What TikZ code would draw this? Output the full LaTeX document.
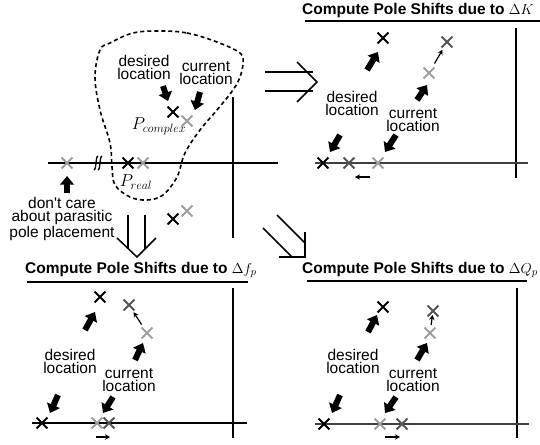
\documentclass[tikz,border=0pt]{standalone}
\usepackage{fontspec}
\newfontfamily\helv{Liberation Sans}
\usetikzlibrary{arrows.meta,shapes.misc}

\definecolor{poledark}{gray}{0.33}
\definecolor{polelight}{gray}{0.62}

\tikzset{
  pole/.style={cross out, draw=black, minimum size=9pt, inner sep=0pt, line width=1.8pt},
  polemid/.style={pole, draw=poledark},
  polelt/.style={pole, draw=polelight},
  axisline/.style={line width=1.4pt},
  fat/.style={line width=6pt, -{Triangle[width=13.5pt,length=8.5pt]}},
  nudge/.style={line width=1.2pt, -{Stealth[length=5pt,width=5.5pt]}},
  hollow/.style={line width=1.5pt, line join=miter},
  lbl/.style={font=\helv\fontsize{15.5}{13}\selectfont, align=center, inner sep=0pt},
  ttl/.style={font=\helv\bfseries\fontsize{15.5}{18}\selectfont, inner sep=0pt, anchor=west},
  sym/.style={font=\fontsize{17.5}{20}\selectfont, inner sep=0pt},
  blob/.style={line width=1.6pt, dash pattern=on 4pt off 3pt}
}

\begin{document}
\begin{tikzpicture}[x=1pt,y=-1pt]
\useasboundingbox (0,0) rectangle (540,444);

% ---------- original pole map ----------
\draw[axisline] (48,163) -- (278,163);
\draw[axisline] (233,97) -- (233,238);
% axis break
\foreach \bx in {96,100}
  \draw[line width=1.3pt] (\bx+2,156) .. controls (\bx-0.5,156) and (\bx+0.5,170) .. (\bx-2,170);

\node[polelt] (m-par) at (67,163) {};
\node[pole]   (m-rb)  at (128,163) {};
\node[polelt] (m-rl)  at (143,163) {};
\node[pole]   (m-cb)  at (173,112) {};
\node[polelt] (m-cl)  at (187,121) {};
\node[pole]   (m-ccb) at (173,219) {};
\node[polelt] (m-ccl) at (187,211) {};

\node[sym] (m-pc) at (159,126) {$P_{complex}$};
\node[sym] (m-pr) at (136,182) {$P_{real}$};

\draw[blob] plot[smooth cycle, tension=0.6] coordinates {
  (160,31) (187,33) (217,42) (240,53) (243,63) (240,77) (233,90) (217,110)
  (200,130) (185,153) (177,177) (163,195) (147,200) (130,197) (115,185)
  (112,167) (110,143) (100,110) (95,77) (100,50) (110,43) (133,33)};

\node[lbl] (m-des) at (144,67) {desired\\location};
\node[lbl] (m-cur) at (206,73) {current\\location};
\node[lbl] (m-dc)  at (62,219) {don{\char39}t care\\about parasitic\\pole placement};

\draw[fat] ([shift={(-10,-26)}]m-cb.center) -- ([shift={(-5,-11)}]m-cb.center);
\draw[fat] ([shift={(13,-29)}]m-cl.center) -- ([shift={(8,-11)}]m-cl.center);
\draw[fat] ([shift={(0,30)}]m-par.center) -- ([shift={(0,13)}]m-par.center);

% ---------- hollow transition arrows ----------
\coordinate (ra1) at (265,72);  \coordinate (ra2) at (313,72);
\coordinate (rb1) at (265,91);  \coordinate (rb2) at (313,91);
\draw[hollow] (ra1) -- (ra2);
\draw[hollow] (rb1) -- (rb2);
\draw[hollow] (297,62) -- (317,82) -- (297,102);

\coordinate (da1) at (128,215); \coordinate (da2) at (128,249);
\coordinate (db1) at (145,215); \coordinate (db2) at (145,249);
\draw[hollow] (da1) -- (da2);
\draw[hollow] (db1) -- (db2);
\draw[hollow] (117,238) -- (137,257) -- (156,238);

\coordinate (ga1) at (277,215); \coordinate (ga2) at (305,243);
\coordinate (gb1) at (263,228); \coordinate (gb2) at (292,257);
\draw[hollow] (ga1) -- (ga2);
\draw[hollow] (gb1) -- (gb2);
\draw[hollow] (279,257) -- (305,257) -- (305,232);

% ---------- panel: Delta K ----------
\node[ttl] (k-t) at (302,10) {Compute Pole Shifts due to $\Delta K$};
\draw[line width=1.2pt] (305,21) -- (540,21);
\draw[axisline] (516,28) -- (516,178);
\draw[axisline, draw=black!75] (315,163) -- (528,163);

\node[pole]    (k-b)  at (383,38) {};
\node[polemid] (k-d)  at (447,42) {};
\node[polelt]  (k-l)  at (429,73) {};
\node[pole]    (k-ab) at (323,163) {};
\node[polemid] (k-ad) at (349,163) {};
\node[polelt]  (k-al) at (378,163) {};

\node[lbl] (k-des) at (352,103) {desired\\location};
\node[lbl] (k-cur) at (413,120) {current\\location};

\draw[fat] ([shift={(-16,32)}]k-b.center) -- ([shift={(-5,14)}]k-b.center);
\draw[fat] ([shift={(17,-28)}]k-ab.center) -- ([shift={(7,-11)}]k-ab.center);
\draw[fat] ([shift={(-12,27)}]k-l.center) -- ([shift={(-2,12)}]k-l.center);
\draw[fat] ([shift={(18,-28)}]k-al.center) -- ([shift={(7,-11)}]k-al.center);
\draw[nudge, shorten <=11pt, shorten >=9pt] (k-l.center) -- (k-d.center);
\draw[nudge] ([shift={(-8,14)}]k-al.center) -- ([shift={(-23,14)}]k-al.center);

% ---------- panel: Delta f_p ----------
\node[ttl] (f-t) at (25,270) {Compute Pole Shifts due to $\Delta f_p$};
\draw[line width=1.2pt] (27,282) -- (248,282);
\draw[axisline] (233,288) -- (233,438);
\draw[axisline] (32,423) -- (247,423);

\node[pole]    (f-b)  at (100,297) {};
\node[polemid] (f-d)  at (129,305) {};
\node[polelt]  (f-l)  at (147,333) {};
\node[pole]    (f-ab) at (42,423) {};
\node[polelt]  (f-al) at (97,423) {};
\node[polemid] (f-ad) at (109,423) {};

\node[lbl] (f-des) at (70,361) {desired\\location};
\node[lbl] (f-cur) at (129,380) {current\\location};

\draw[fat] ([shift={(-15,33)}]f-b.center) -- ([shift={(-5,15)}]f-b.center);
\draw[fat] ([shift={(16,-28)}]f-ab.center) -- ([shift={(8,-10)}]f-ab.center);
\draw[fat] ([shift={(-12,27)}]f-l.center) -- ([shift={(-4,10)}]f-l.center);
\draw[fat] ([shift={(16,-26)}]f-al.center) -- ([shift={(6,-10)}]f-al.center);
\draw[nudge, shorten <=10pt, shorten >=8.5pt] (f-l.center) -- (f-d.center);
\draw[nudge] ([shift={(-1,14)}]f-al.center) -- ([shift={(13,14)}]f-al.center);

% ---------- panel: Delta Q_p ----------
\node[ttl] (q-t) at (302,270) {Compute Pole Shifts due to $\Delta Q_p$};
\draw[line width=1.2pt] (307,281) -- (527,281);
\draw[axisline] (517,288) -- (517,438);
\draw[axisline, draw=black!75] (315,424) -- (529,424);

\node[pole]    (q-b)  at (383,307) {};
\node[polemid] (q-d)  at (433,311) {};
\node[polelt]  (q-l)  at (430,333) {};
\node[pole]    (q-ab) at (324,424) {};
\node[polelt]  (q-al) at (380,424) {};
\node[polemid] (q-ad) at (402,424) {};

\node[lbl] (q-des) at (353,361) {desired\\location};
\node[lbl] (q-cur) at (413,380) {current\\location};

\draw[fat] ([shift={(-15,25)}]q-b.center) -- ([shift={(-6,8)}]q-b.center);
\draw[fat] ([shift={(16,-29)}]q-ab.center) -- ([shift={(8,-11)}]q-ab.center);
\draw[fat] ([shift={(-13,27)}]q-l.center) -- ([shift={(-3,10)}]q-l.center);
\draw[fat] ([shift={(16,-27)}]q-al.center) -- ([shift={(5,-11)}]q-al.center);
\draw[nudge, shorten <=8pt, shorten >=4pt] (q-l.center) -- (q-d.center);
\draw[nudge] ([shift={(5,13)}]q-al.center) -- ([shift={(20,13)}]q-al.center);
\end{tikzpicture}
\end{document}
